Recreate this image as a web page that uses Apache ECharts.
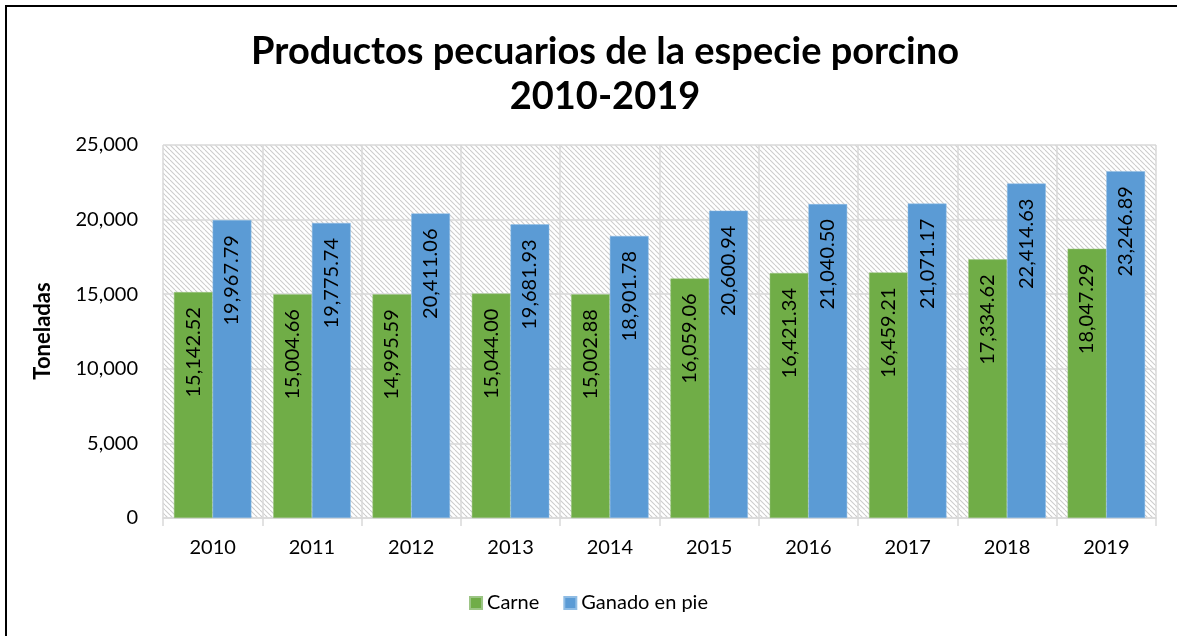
<!DOCTYPE html>
<html lang="es">
<head>
    <meta charset="UTF-8" />
    <title>Productos pecuarios de la especie porcino</title>
    <script src="https://cdn.jsdelivr.net/npm/echarts@6/dist/echarts.min.js"></script>
    <style>
        html, body { margin: 0; padding: 0; background: #fff; }
        #chart { width: 1177px; height: 636px; }
        /* marco negro del recuadro original (solo se ven borde izquierdo y superior) */
        #frame {
            position: absolute; left: 5px; top: 5px; width: 1300px; height: 700px;
            border-left: 2px solid #000; border-top: 2px solid #000; pointer-events: none;
        }
    </style>
</head>
<body>
    <div id="chart"></div>
    <div id="frame"></div>

    <script>
        // datos
        const years = ["2010", "2011", "2012", "2013", "2014", "2015", "2016", "2017", "2018", "2019"];
        const carne = [15142.52, 15004.66, 14995.59, 15044.00, 15002.88, 16059.06, 16421.34, 16459.21, 17334.62, 18047.29];
        const ganado = [19967.79, 19775.74, 20411.06, 19681.93, 18901.78, 20600.94, 21040.50, 21071.17, 22414.63, 23246.89];

        const font = "Lato, 'Open Sans', sans-serif";

        // trama diagonal del fondo del area de trazado
        function hatch() {
            let s = 5;
            let c = document.createElement("canvas");
            c.width = s; c.height = s;
            let ctx = c.getContext("2d");
            ctx.fillStyle = "#fff";
            ctx.fillRect(0, 0, s, s);
            ctx.strokeStyle = "#cccccc";
            ctx.lineWidth = 1.1;
            for (let k = -s; k <= s; k += s) {
                ctx.beginPath();
                ctx.moveTo(k, 0);
                ctx.lineTo(k + s, s);
                ctx.stroke();
            }
            return c;
        }

        let fmt = v => v.toLocaleString("en-US", { minimumFractionDigits: 2, maximumFractionDigits: 2 });

        let barLabel = {
            show: true,
            position: "insideTop",
            distance: 15,
            rotate: 90,
            align: "right",
            verticalAlign: "middle",
            color: "#000",
            fontFamily: font,
            fontSize: 20,
            formatter: p => fmt(p.value),
        };

        let myChart = echarts.init(document.getElementById("chart"), null, { renderer: "canvas" });

        let option = {
            animation: false,
            title: {
                text: "Productos pecuarios de la especie porcino\n2010-2019",
                left: 600,
                textAlign: "center",
                top: 24,
                textStyle: {
                    fontFamily: font,
                    fontWeight: "bold",
                    fontSize: 38,
                    lineHeight: 45,
                    color: "#000",
                },
            },
            // titulo del eje Y
            graphic: [
                {
                    type: "text",
                    x: 43,
                    y: 331,
                    rotation: Math.PI / 2,
                    style: {
                        text: "Toneladas",
                        fontFamily: font,
                        fontWeight: "bold",
                        fontSize: 22,
                        fill: "#000",
                        align: "center",
                        verticalAlign: "middle",
                    },
                },
            ],
            legend: {
                bottom: 18,
                left: "center",
                itemWidth: 12,
                itemHeight: 12,
                itemGap: 24,
                icon: "rect",
                textStyle: { fontFamily: font, fontSize: 20, color: "#000" },
                data: ["Carne", "Ganado en pie"],
            },
            grid: {
                left: 163,
                right: 21,
                top: 145,
                bottom: 118,
                show: true,
                borderWidth: 0,
                backgroundColor: { image: hatch(), repeat: "repeat" },
            },
            xAxis: {
                type: "category",
                data: years,
                axisLine: { lineStyle: { color: "#d9d9d9", width: 1.5 } },
                axisTick: { show: true, length: 8, lineStyle: { color: "#d9d9d9", width: 1.5 } },
                splitLine: { show: true, lineStyle: { color: "#d9d9d9", width: 1.5 } },
                axisLabel: { color: "#000", fontFamily: font, fontSize: 20, margin: 20 },
            },
            yAxis: {
                type: "value",
                min: 0,
                max: 25000,
                interval: 5000,
                axisLine: { show: false },
                axisTick: { show: false },
                splitLine: { lineStyle: { color: "#d9d9d9", width: 1.5 } },
                axisLabel: {
                    color: "#000",
                    fontFamily: font,
                    fontSize: 20,
                    margin: 25,
                    formatter: v => v.toLocaleString("en-US"),
                },
            },
            series: [
                {
                    name: "Carne",
                    type: "bar",
                    data: carne,
                    barGap: "0%",
                    barCategoryGap: "22%",
                    itemStyle: { color: "#70AD47", borderColor: "#9cc585", borderWidth: 0.5 },
                    label: barLabel,
                },
                {
                    name: "Ganado en pie",
                    type: "bar",
                    data: ganado,
                    barGap: "0%",
                    barCategoryGap: "22%",
                    itemStyle: { color: "#5B9BD5", borderColor: "#8fbce4", borderWidth: 0.5 },
                    label: barLabel,
                },
            ],
        };

        myChart.setOption(option);
    </script>
</body>
</html>
